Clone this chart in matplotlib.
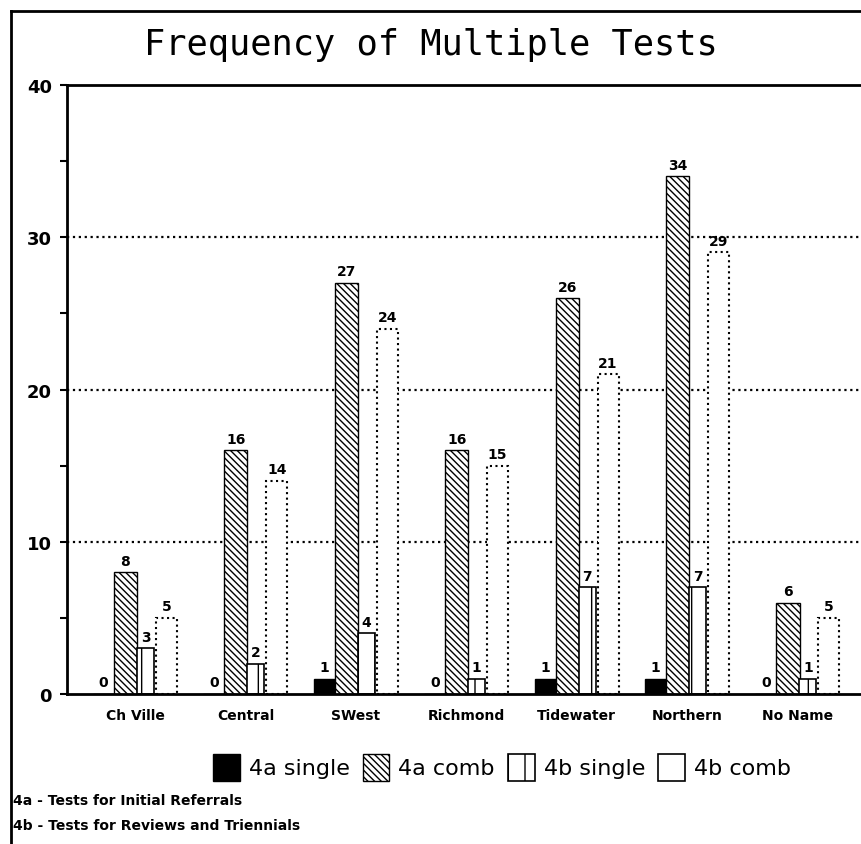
import matplotlib.pyplot as plt
import numpy as np
from matplotlib.lines import Line2D
from matplotlib.patches import Patch

regions = ['Ch Ville', 'Central', 'SWest', 'Richmond', 'Tidewater', 'Northern', 'No Name']
a_single = [0, 0, 1, 0, 1, 1, 0]
a_comb = [8, 16, 27, 16, 26, 34, 6]
b_single = [3, 2, 4, 1, 7, 7, 1]
b_comb = [5, 14, 24, 15, 21, 29, 5]

plt.rcParams['hatch.linewidth'] = 1.0

fig = plt.figure(figsize=(8.61, 8.45), dpi=100)
ax = fig.add_axes([0.0778, 0.1775, 0.9222, 0.7207])

x = np.arange(len(regions))
bs1 = ax.bar(x - 0.285, a_single, 0.19, color='black', edgecolor='black', label='4a single')
bs2 = ax.bar(x - 0.086, a_comb, 0.21, color='white', edgecolor='black', hatch='\\' * 5,
             linewidth=1, label='4a comb')
bs3 = ax.bar(x + 0.095, b_single, 0.155, color='white', edgecolor='black', hatch='|',
             linewidth=1.2, label='4b single')
bs4 = ax.bar(x + 0.285, b_comb, 0.19, color='white', edgecolor='black', linestyle=':',
             linewidth=1.5, label='4b comb')

for bars, vals in [(bs1, a_single), (bs2, a_comb), (bs3, b_single), (bs4, b_comb)]:
    for r, v in zip(bars, vals):
        ax.text(r.get_x() + r.get_width() / 2, v + 0.3, str(v), ha='center', va='bottom',
                fontsize=10, fontweight='bold')

ax.set_ylim(0, 40)
ax.set_xlim(-0.616, 6.576)
ax.set_yticks([0, 10, 20, 30, 40])
ax.set_yticks([5, 15, 25, 35], minor=True)
ax.tick_params(axis='y', direction='out', length=5, width=1.5, labelsize=13, pad=6)
ax.tick_params(axis='y', which='minor', direction='out', length=5, width=1.5)
for t in ax.get_yticklabels():
    t.set_fontweight('bold')
ax.set_xticks(x)
ax.set_xticklabels(regions, fontsize=10, fontweight='bold')
ax.tick_params(axis='x', length=0, pad=10)

for yv in [10, 20, 30]:
    ax.axhline(yv, color='black', linestyle=':', linewidth=1.6, zorder=0)

ax.spines['right'].set_visible(False)
for s in ['left', 'bottom', 'top']:
    ax.spines[s].set_linewidth(2)

fig.text(0.5, 0.947, 'Frequency of Multiple Tests', ha='center', va='center',
         fontsize=25.5, family='DejaVu Sans Mono')

comb_handle = Patch(facecolor='white', edgecolor='black', linewidth=1.2, label='4b comb')
ax.legend(handles=[bs1, bs2, bs3, comb_handle], loc='center', bbox_to_anchor=(0.583, 0.091),
          bbox_transform=fig.transFigure, ncol=4, frameon=False, fontsize=16,
          handlelength=1.2, handleheight=1.5, handletextpad=0.4, columnspacing=0.6)

fig.text(0.015, 0.052, '4a - Tests for Initial Referrals', ha='left', va='center',
         fontsize=10, fontweight='bold')
fig.text(0.015, 0.022, '4b - Tests for Reviews and Triennials', ha='left', va='center',
         fontsize=10, fontweight='bold')

fig.add_artist(Line2D([0.013, 1.0], [0.986, 0.986], color='black', linewidth=2))
fig.add_artist(Line2D([0.013, 0.013], [0.0, 0.986], color='black', linewidth=2))

fig.savefig('out.png', dpi=100)
